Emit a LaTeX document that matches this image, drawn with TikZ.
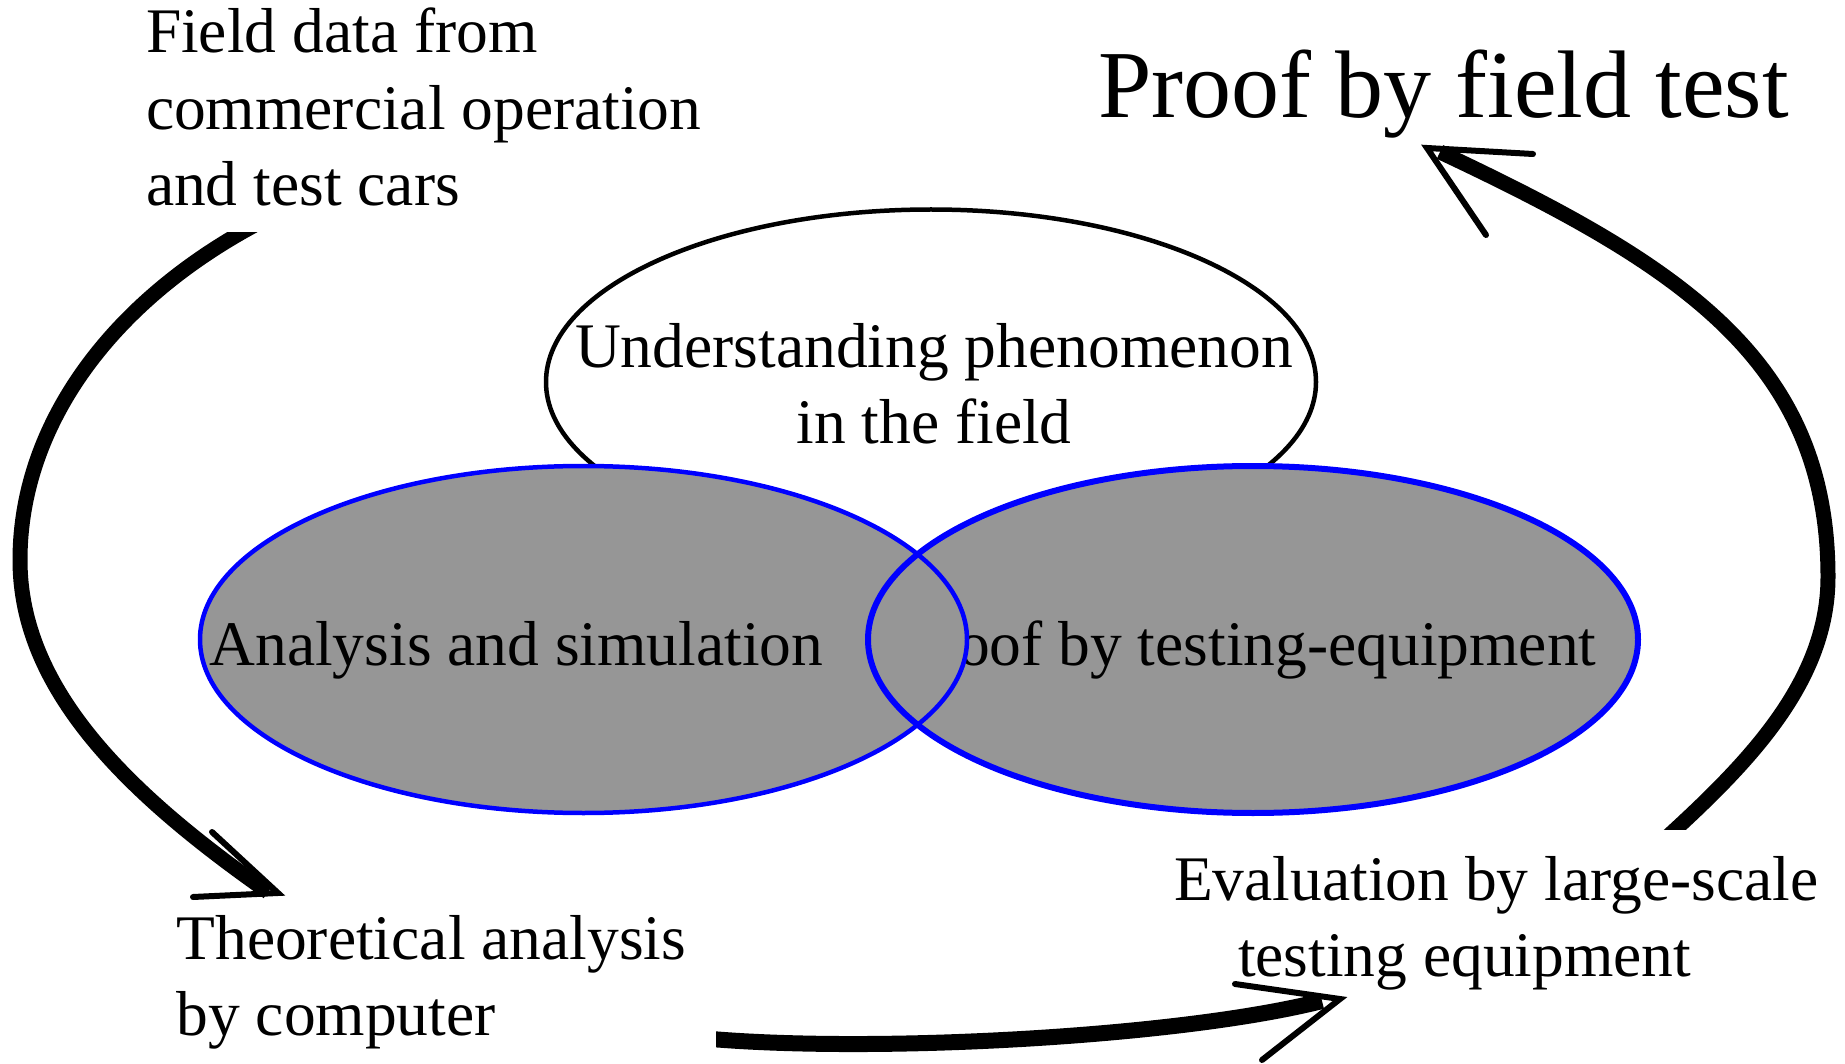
\documentclass[tikz,border=0pt]{standalone}
\usepackage{fontspec}
\setmainfont{Liberation Serif}
\usetikzlibrary{shapes.geometric}
\definecolor{ellgray}{RGB}{150,150,150}
\begin{document}
\begin{tikzpicture}[x=1pt,y=-1pt,
  txt/.style={font=\fontsize{63.5}{76.5}\selectfont, inner sep=0pt, outer sep=0pt},
  bubble/.style={ellipse, inner sep=0pt, outer sep=0pt, minimum width=#1, minimum height=347pt, fill=ellgray},
  shaft/.style={line width=15pt},
  barb/.style={line width=6pt, line cap=round, line join=miter}]
\useasboundingbox (0,0) rectangle (1845,1064);
% top ellipse
\node[ellipse, draw=black, line width=4.5pt, fill=white, inner sep=0pt, minimum width=770pt, minimum height=345pt] (field) at (931,382) {};
\node[txt, align=center, anchor=base] (fieldtxt) at (934,443.6) {Understanding phenomenon\\in the field};
% blue ellipses
\node[bubble=770pt] (testeq) at (1253,639.5) {};
\node[txt, anchor=base] (testeqtxt) at (1249,665) {Proof by testing-equipment};
\node[bubble=767pt] (anasim) at (583.5,639.5) {};
\draw[blue, line width=6pt] (testeq.center) ellipse [x radius=385pt, y radius=173.5pt];
\draw[blue, line width=4.5pt] (anasim.center) ellipse [x radius=383.5pt, y radius=173.5pt];
\node[txt, anchor=base west] (anasimtxt) at (209.5,665) {Analysis and simulation};
% labels
\node[font=\fontsize{96}{110}\selectfont, inner sep=0pt, anchor=base west] (proof) at (1098,117.7) {Proof by field test};
\node[txt, align=left, anchor=base west] (fielddata) at (146,206) {Field data from\\commercial operation\\and test cars};
\node[txt, align=left, anchor=base west] (theo) at (176.5,1035.5) {Theoretical analysis\\by computer};
\node[txt, align=left, anchor=base west] (evalu) at (1174,976.7) {Evaluation by large-scale\\\hspace*{64pt}testing equipment};
% left arc
\coordinate (la0) at (284.5,210);
\coordinate (la1) at (20,560);
\coordinate (la2) at (268,892);
\coordinate (latip) at (278,893);
\coordinate (lab1) at (212,832);
\coordinate (lab2) at (193,897);
\begin{scope}
\clip (0,233) rectangle (1845,1064);
\draw[shaft] (la0) .. controls (119.2,288.4) and (20,419.7) .. (la1) .. controls (20,690) and (128.8,794.4) .. (la2);
\end{scope}
\draw[barb] (lab1) -- (latip) -- (lab2);
% right arc
\coordinate (ra0) at (1654,849);
\coordinate (ra1) at (1828,577);
\coordinate (ra2) at (1440,152);
\coordinate (ratip) at (1427,148);
\coordinate (rab1) at (1533,154);
\coordinate (rab2) at (1486,235);
\begin{scope}
\clip (0,0) rectangle (1845,829);
\draw[shaft] (ra0) .. controls (1740,771) and (1828,687) .. (ra1) .. controls (1828,360) and (1680,265) .. (ra2);
\end{scope}
\draw[barb] (rab1) -- (ratip) -- (rab2);
% bottom arc
\coordinate (ba0) at (700,1038);
\coordinate (ba1) at (1322,1001);
\coordinate (batip) at (1340,999);
\coordinate (bab1) at (1235,984);
\coordinate (bab2) at (1262,1060);
\begin{scope}
\clip (716,0) rectangle (1845,1064);
\draw[line width=16pt] (ba0) .. controls (870,1054) and (1180,1037) .. (ba1);
\end{scope}
\draw[barb] (bab1) -- (batip) -- (bab2);
\end{tikzpicture}
\end{document}
